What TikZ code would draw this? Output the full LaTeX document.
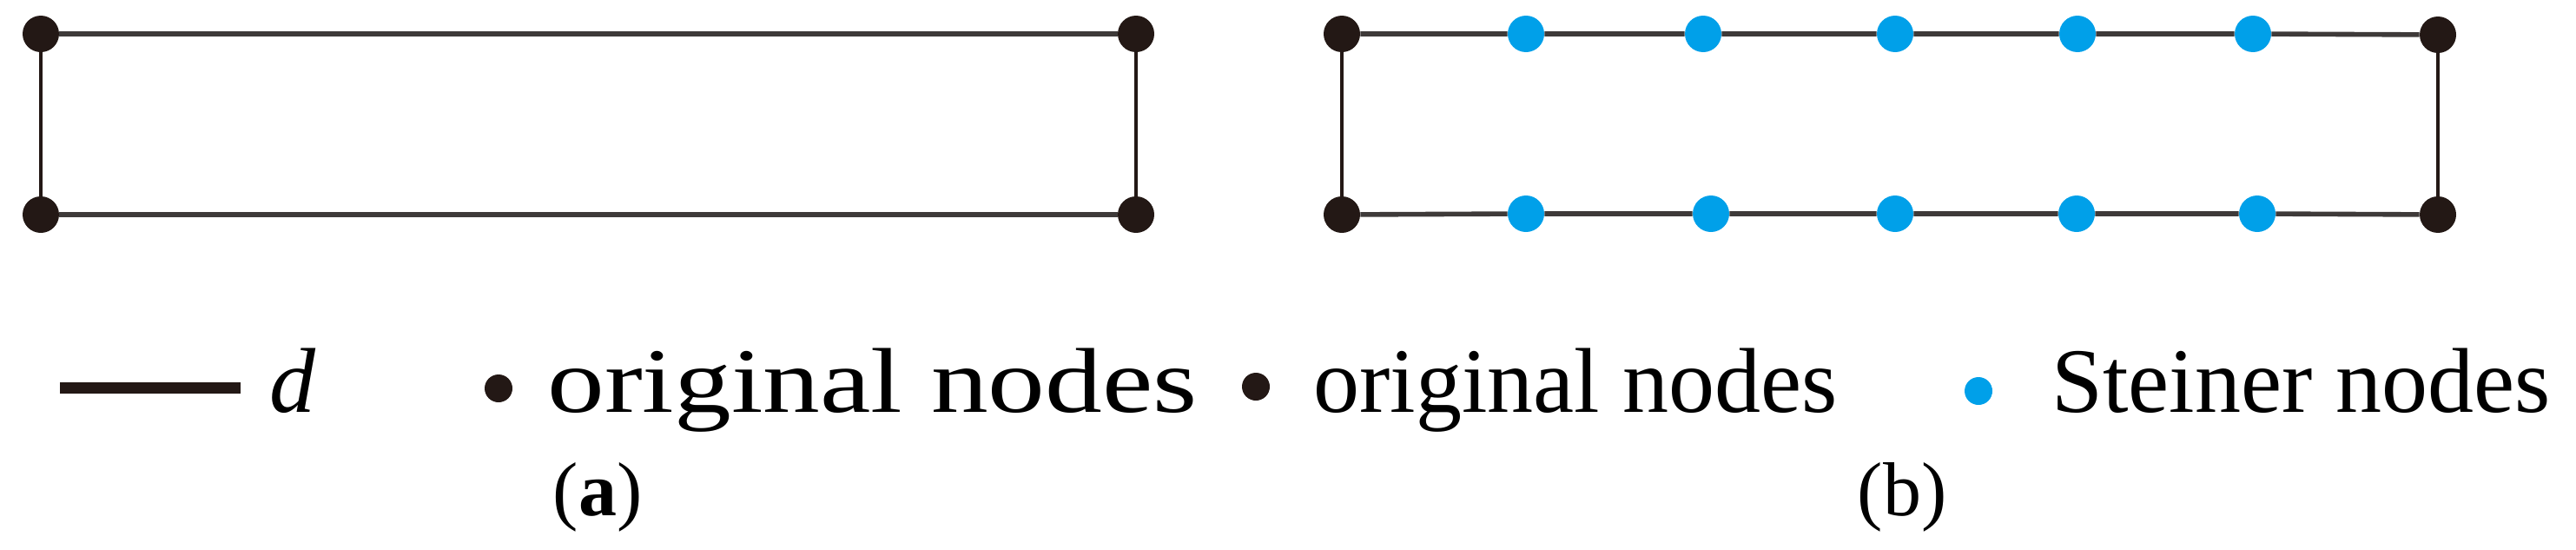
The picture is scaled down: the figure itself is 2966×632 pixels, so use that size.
\documentclass[tikz,border=0pt]{standalone}
\usepackage{fontspec}
\setmainfont{Liberation Serif}
\usepackage{graphicx}
\usetikzlibrary{positioning}
\definecolor{dotblack}{HTML}{231815}
\definecolor{linegray}{HTML}{3E3A39}
\definecolor{steinerblue}{HTML}{00A0E9}

\begin{document}
\begin{tikzpicture}[x=0.5pt,y=-0.5pt,
  orig/.style={circle,fill=dotblack,inner sep=0pt,minimum size=21pt},
  stein/.style={circle,fill=steinerblue,inner sep=0pt,minimum size=21pt},
  legdot/.style={circle,fill=dotblack,inner sep=0pt,minimum size=16pt},
  hedge/.style={draw=linegray,line width=2.8pt},
  vedge/.style={draw=dotblack,line width=2pt},
  legtext/.style={anchor=base west,inner sep=0pt,font=\fontsize{53}{60}\selectfont},
  sublabel/.style={inner sep=0pt,font=\fontsize{44}{50}\selectfont}]
  \useasboundingbox (0,0) rectangle (2966,632);

  % (a) the plain rectangle
  \node[orig] (a1) at (47,39)    {};
  \node[orig] (a2) at (1308,39)  {};
  \node[orig] (a3) at (47,247)   {};
  \node[orig] (a4) at (1308,247) {};
  \path[hedge] (a1) -- (a2) (a3) -- (a4);
  \path[vedge] (a1) -- (a3) (a2) -- (a4);

  % (b) with Steiner nodes on the long sides
  \node[orig] (b1) at (1545,39)  {};
  \node[orig] (b2) at (2807,40)  {};
  \node[orig] (b3) at (1545,247) {};
  \node[orig] (b4) at (2807,247) {};
  \foreach \x [count=\i] in {1757,1961,2182,2392,2594}
    \node[stein] (t\i) at (\x,39) {};
  \foreach \x [count=\i] in {1757,1970,2182,2391,2599}
    \node[stein] (u\i) at (\x,246) {};
  \path[hedge] (b1) -- (t1) -- (t2) -- (t3) -- (t4) -- (t5) -- (b2)
               (b3) -- (u1) -- (u2) -- (u3) -- (u4) -- (u5) -- (b4);
  \path[vedge] (b1) -- (b3) (b2) -- (b4);

  % legends
  \coordinate (ls) at (69,446);
  \coordinate (le) at (277,446);
  \draw[dotblack,line width=6.5pt] (ls) -- (le);
  \node[legtext] (dlab) at (310,474) {\textit{d}};
  \node[legdot] (la) at (574,447) {};
  \node[legtext] (lorig) at (630,474) {\scalebox{1.24}[1]{original nodes}};
  \node[legdot] (lb) at (1446,445) {};
  \node[legtext] (lorigb) at (1512,474) {original nodes};
  \node[legdot,fill=steinerblue] (lc) at (2278,450) {};
  \node[legtext] (lstein) at (2362,474) {Steiner nodes};

  \node[sublabel] (capa) at (688,572) {(\textbf{a})};
  \node[sublabel] (capb) at (2190,572) {(b)};
\end{tikzpicture}
\end{document}
